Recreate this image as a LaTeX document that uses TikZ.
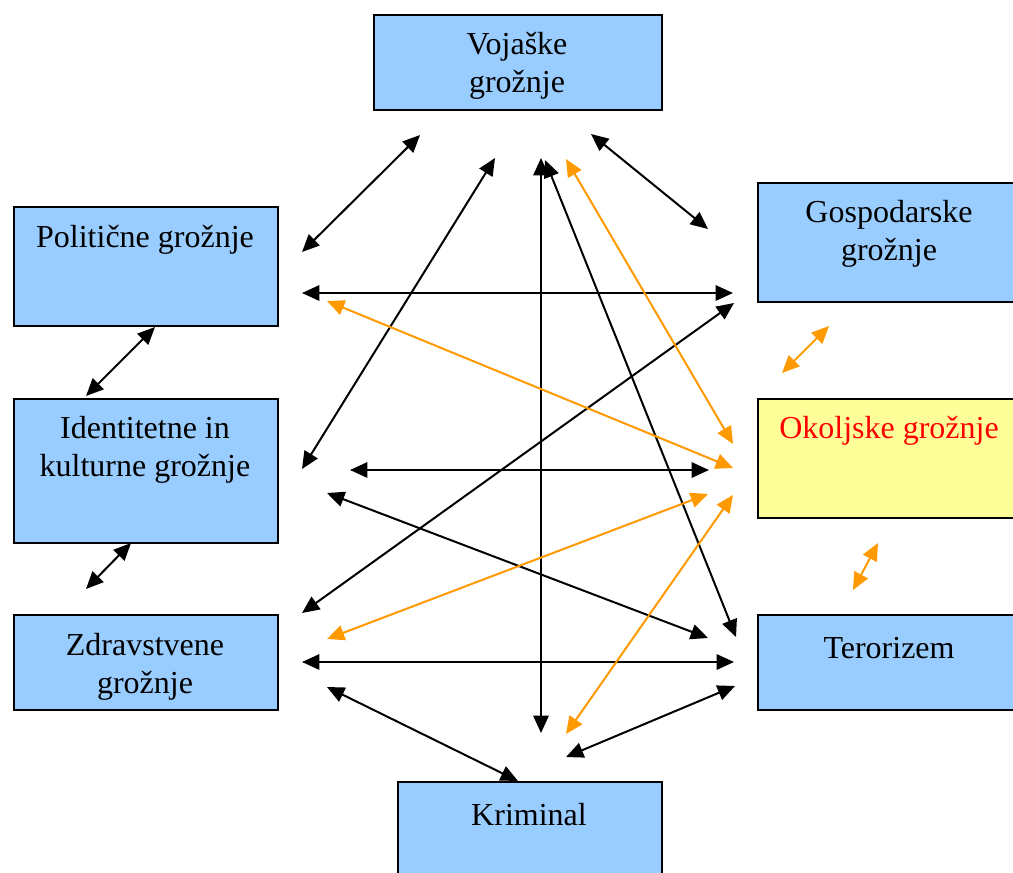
\documentclass[tikz,border=0pt]{standalone}
\usepackage{fontspec}
\setmainfont{Liberation Serif}
\usetikzlibrary{arrows.meta}
\definecolor{boxblue}{HTML}{99CCFF}
\definecolor{boxyellow}{HTML}{FFFF99}
\definecolor{arrorange}{HTML}{FF9900}
\begin{document}
\begin{tikzpicture}[x=0.75pt,y=-0.75pt,
  box/.style={draw=black,line width=1.4pt,fill=boxblue,anchor=north west,inner sep=0pt},
  ybox/.style={box,fill=boxyellow},
  lab/.style={font=\fontsize{24}{28.5}\selectfont,align=center,inner sep=0pt},
  conn/.style={line width=1.5pt,{Triangle[length=13pt,width=11.5pt]}-{Triangle[length=13pt,width=11.5pt]}},
  oconn/.style={conn,draw=arrorange,fill=arrorange}
]
\useasboundingbox (0,0) rectangle (1013,872);
% boxes
\node[box,minimum width=288*0.75pt,minimum height=95*0.75pt] (voj) at (373,14) {};
\node[box,minimum width=264*0.75pt,minimum height=119*0.75pt] (pol) at (13,206) {};
\node[box,minimum width=275*0.75pt,minimum height=119*0.75pt] (gos) at (757,182) {};
\node[box,minimum width=264*0.75pt,minimum height=144*0.75pt] (ide) at (13,398) {};
\node[ybox,minimum width=275*0.75pt,minimum height=119*0.75pt] (oko) at (757,398) {};
\node[box,minimum width=264*0.75pt,minimum height=95*0.75pt] (zdr) at (13,614) {};
\node[box,minimum width=275*0.75pt,minimum height=95*0.75pt] (ter) at (757,614) {};
\node[box,minimum width=264*0.75pt,minimum height=110*0.75pt] (kri) at (397,781) {};
% labels
\node[lab] (tvoj) at (517,66) {Vojaške\\grožnje};
\node[lab] (tpol) at (145,240) {Politične grožnje};
\node[lab] (tgos) at (889,234) {Gospodarske\\grožnje};
\node[lab] (tide) at (145,450) {Identitetne in\\kulturne grožnje};
\node[lab,text=red] (toko) at (889,431) {Okoljske grožnje};
\node[lab] (tzdr) at (145,667) {Zdravstvene\\grožnje};
\node[lab] (tter) at (889,648) {Terorizem};
\node[lab] (tkri) at (529,815) {Kriminal};
% connector end points
\coordinate (a1) at (420,135); \coordinate (b1) at (302,252);
\coordinate (a2) at (495,158); \coordinate (b2) at (302,469);
\coordinate (a3) at (541,158); \coordinate (b3) at (541,733);
\coordinate (a4) at (545,160); \coordinate (b4) at (736,637);
\coordinate (a5) at (566,159); \coordinate (b5) at (733,444);
\coordinate (a6) at (591,134); \coordinate (b6) at (708,229);
\coordinate (a7) at (302,293); \coordinate (b7) at (733,293);
\coordinate (a8) at (327,301); \coordinate (b8) at (733,468);
\coordinate (a9) at (302,613); \coordinate (b9) at (734,303);
\coordinate (a10) at (350,470); \coordinate (b10) at (709,470);
\coordinate (a11) at (327,493); \coordinate (b11) at (708,638);
\coordinate (a12) at (327,639); \coordinate (b12) at (708,494);
\coordinate (a13) at (566,734); \coordinate (b13) at (733,495);
\coordinate (a14) at (302,662); \coordinate (b14) at (734,662);
\coordinate (a15) at (327,687); \coordinate (b15) at (518,781);
\coordinate (a16) at (566,757); \coordinate (b16) at (735,686);
\coordinate (a17) at (155,327); \coordinate (b17) at (86,396);
\coordinate (a18) at (131,543); \coordinate (b18) at (86,589);
\coordinate (a19) at (829,326); \coordinate (b19) at (782,373);
\coordinate (a20) at (878,543); \coordinate (b20) at (853,590);
% black connectors
\draw[conn] (a1) -- (b1);
\draw[conn] (a2) -- (b2);
\draw[conn] (a3) -- (b3);
\draw[conn] (a4) -- (b4);
\draw[conn] (a6) -- (b6);
\draw[conn] (a7) -- (b7);
\draw[conn] (a9) -- (b9);
\draw[conn] (a10) -- (b10);
\draw[conn] (a11) -- (b11);
\draw[conn] (a14) -- (b14);
\draw[conn] (a15) -- (b15);
\draw[conn] (a16) -- (b16);
\draw[conn] (a17) -- (b17);
\draw[conn] (a18) -- (b18);
% orange connectors
\draw[oconn] (a5) -- (b5);
\draw[oconn] (a8) -- (b8);
\draw[oconn] (a12) -- (b12);
\draw[oconn] (a13) -- (b13);
\draw[oconn] (a19) -- (b19);
\draw[oconn] (a20) -- (b20);
\end{tikzpicture}
\end{document}
